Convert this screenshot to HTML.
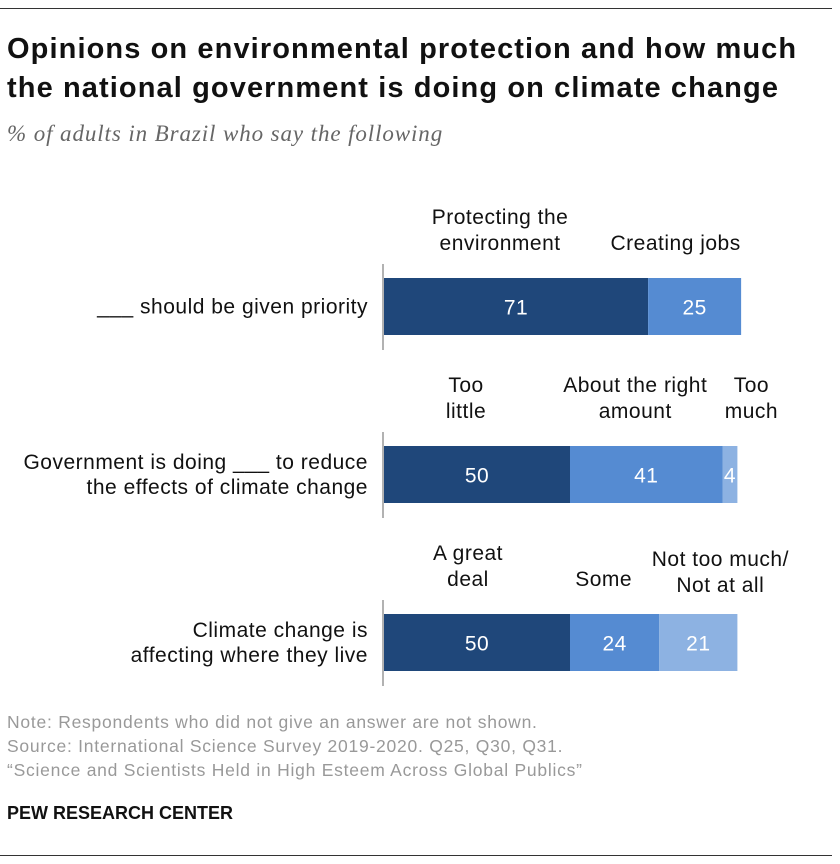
<!DOCTYPE html>
<html><head><meta charset="utf-8"><style>
body{margin:0;width:840px;height:864px;background:#fff;font-family:"Liberation Sans",sans-serif;position:relative;overflow:hidden}
.t{position:absolute;white-space:nowrap}
</style></head><body>
<div style="position:absolute;left:0;top:8px;width:832px;height:1px;background:#333"></div>
<div class="t" style="left:7px;top:30px;font-size:29px;letter-spacing:1.1px;font-weight:bold;line-height:39px;color:#111">Opinions on environmental protection and how much<br>the national government is doing on climate change</div>
<div class="t" style="left:7px;top:121px;font-family:'Liberation Serif',serif;font-style:italic;font-size:23px;letter-spacing:0.9px;color:#666">% of adults in Brazil who say the following</div>
<svg id="chart" width="840" height="700" style="position:absolute;left:0;top:0" font-family="Liberation Sans, sans-serif"></svg>
<div class="t" style="left:7px;top:710px;font-size:17.5px;letter-spacing:0.75px;line-height:24px;color:#999">Note: Respondents who did not give an answer are not shown.<br>Source: International Science Survey 2019-2020. Q25, Q30, Q31.<br>“Science and Scientists Held in High Esteem Across Global Publics”</div>
<div class="t" style="left:7px;top:803px;font-size:18px;font-weight:bold;color:#111">PEW RESEARCH CENTER</div>
<div style="position:absolute;left:0;top:855px;width:832px;height:1px;background:#333"></div>
<script>
const rowLabels=[["___ should be given priority"],["Government is doing ___ to reduce","the effects of climate change"],["Climate change is","affecting where they live"]];
const row1=[71,25];
const row2=[50,41,4];
const row3=[50,24,21];
const seriesValues=[row1,row2,row3];
const catLabels=[[["Protecting the","environment"],["Creating jobs"]],[["Too","little"],["About the right","amount"],["Too","much"]],[["A great","deal"],["Some"],["Not too much/","Not at all"]]];
const colors=[["#1f477a","#558bd2"],["#1f477a","#558bd2","#8db2e2"],["#1f477a","#558bd2","#8db2e2"]];
const labelDx=[[-16,-19],[-11,-11,0],[-9,-11,22]];
const labelDy=[[0,0],[0,0,0],[0,0,6]];
const svg=document.getElementById('chart');const NS='http://www.w3.org/2000/svg';
const x0=384,k=3.72,rowTop=[278,446,614],bh=57;
const xs=v=>x0+v*k;
function mk(t,a){const e=document.createElementNS(NS,t);for(const n in a)e.setAttribute(n,a[n]);svg.appendChild(e);return e;}
seriesValues.forEach((vals,r)=>{
  const y=rowTop[r];
  const ax=mk('line',{x1:383,x2:383,y1:y-14,y2:y+bh+15,stroke:'#999','stroke-width':1.5});
  
  
  const lines=rowLabels[r];
  lines.forEach((s,i)=>{const t=mk('text',{x:368,y:y+bh/2+7-(lines.length-1)*12.5+i*25,'text-anchor':'end','font-size':21,'letter-spacing':0.5,fill:'#111'});t.textContent=s;
    
    });
  let cum=0;
  vals.forEach((v,j)=>{
    const xa=xs(cum),xb=xs(cum+v);cum+=v;
    const rc=mk('rect',{x:xa,y:y,width:xb-xa,height:bh,fill:colors[r][j]});
    
    
    const t=mk('text',{x:(xa+xb)/2,y:y+bh/2+8,'text-anchor':'middle','font-size':21,'letter-spacing':0.5,fill:'#fff'});t.textContent=v;
    
    
    const cl=catLabels[r][j];
    let cx=(xa+xb)/2; if(v<8) cx=xb+14;
    cx+=labelDx[r][j];
    cl.forEach((s,i)=>{const c=mk('text',{x:cx,y:y-28-(cl.length-1-i)*26+labelDy[r][j],'text-anchor':'middle','font-size':21,'letter-spacing':0.5,fill:'#111'});c.textContent=s;
      
      });
  });
});
</script>
</body></html>
